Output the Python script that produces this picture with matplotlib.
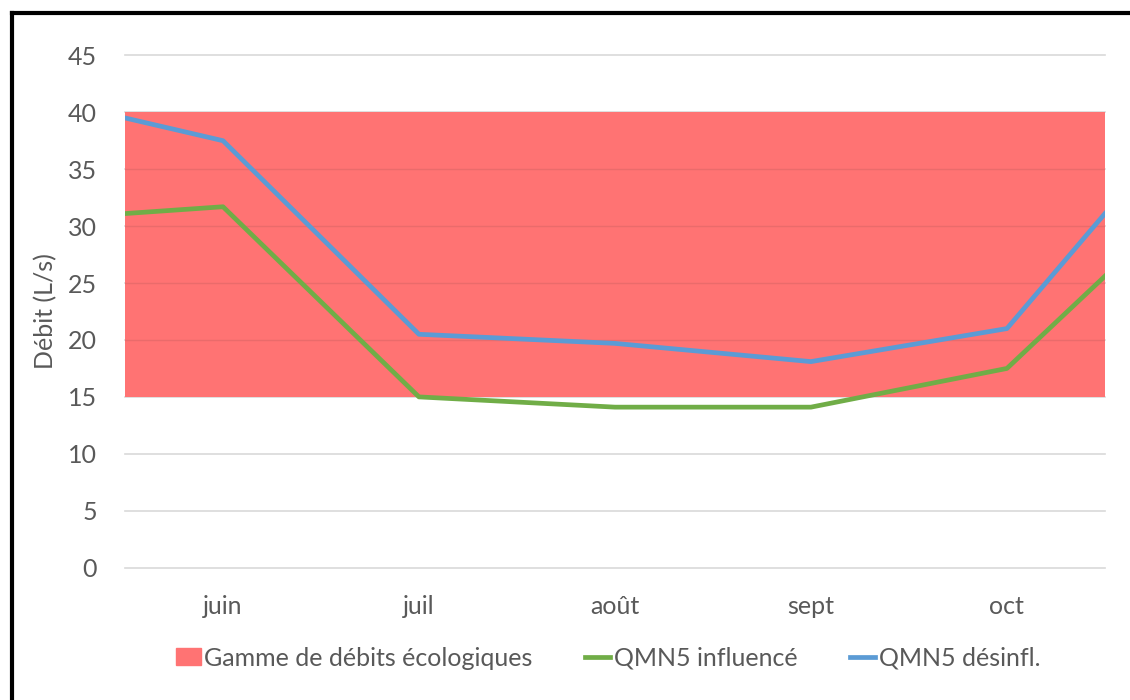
import matplotlib.pyplot as plt
from matplotlib.lines import Line2D
from matplotlib.patches import Patch

# categories (months) and series values, with the values where the lines leave the plot edges
mois = ['juin', 'juil', 'août', 'sept', 'oct']
x_series = [-0.5, 0, 1, 2, 3, 4, 4.5]
qmn5_influence = [31.1, 31.7, 15.0, 14.1, 14.1, 17.5, 25.6]
qmn5_desinfl = [39.5, 37.5, 20.5, 19.7, 18.1, 21.0, 31.1]
gamme_bas = 15
gamme_haut = 40
yticks = [0, 5, 10, 15, 20, 25, 30, 35, 40, 45]

plt.rcParams['font.family'] = ['Lato', 'DejaVu Sans']
gris = '#595959'
fs = 18

fig = plt.figure(figsize=(11.3, 7), dpi=100)
ax = fig.add_axes([0.1106, 0.189, 0.8672, 0.732])

ax.fill_between([-0.5, 4.5], gamme_bas, gamme_haut, color='#ff7373', linewidth=0,
                zorder=1, label='Gamme de débits écologiques')
for y in yticks:
    ax.axhline(y, color='#d9d9d9', linewidth=1.2, zorder=0.5, clip_on=False)
    if gamme_bas < y < gamme_haut:
        ax.axhline(y, color='#ea6b6b', linewidth=1.0, zorder=1.5)

ax.plot(x_series, qmn5_influence, color='#70ad47', linewidth=3.4, zorder=3,
        solid_joinstyle='round', label='QMN5 influencé')
ax.plot(x_series, qmn5_desinfl, color='#5b9bd5', linewidth=3.4, zorder=3,
        solid_joinstyle='round', label='QMN5 désinfl.')

ax.set_xlim(-0.5, 4.5)
ax.set_ylim(0, 45)
ax.set_xticks(range(len(mois)))
ax.set_xticklabels(mois)
ax.set_yticks(yticks)
ax.tick_params(axis='both', length=0, labelsize=fs, labelcolor=gris)
ax.tick_params(axis='x', pad=20)
ax.tick_params(axis='y', pad=20)
for s in ax.spines.values():
    s.set_visible(False)

ax.set_ylabel('Débit (L/s)', fontsize=fs, color=gris, labelpad=8)

handles = [Patch(color='#ff7373'),
           Line2D([], [], color='#70ad47', linewidth=3.4),
           Line2D([], [], color='#5b9bd5', linewidth=3.4)]
labels = ['Gamme de débits écologiques', 'QMN5 influencé', 'QMN5 désinfl.']
fig.legend(handles, labels, loc='center', bbox_to_anchor=(0.538, 0.06), ncol=3,
           frameon=False, fontsize=fs, labelcolor=gris, handlelength=1.0,
           handleheight=0.65, handletextpad=0.15, columnspacing=2.1)

# black border on top and left of the screenshot
fig.add_artist(Line2D([0.0102, 1.0], [0.982, 0.982], color='black', linewidth=3.0,
                      transform=fig.transFigure))
fig.add_artist(Line2D([0.0102, 0.0102], [0.0, 0.982], color='black', linewidth=3.0,
                      transform=fig.transFigure))

plt.savefig('out.png', dpi=100)
